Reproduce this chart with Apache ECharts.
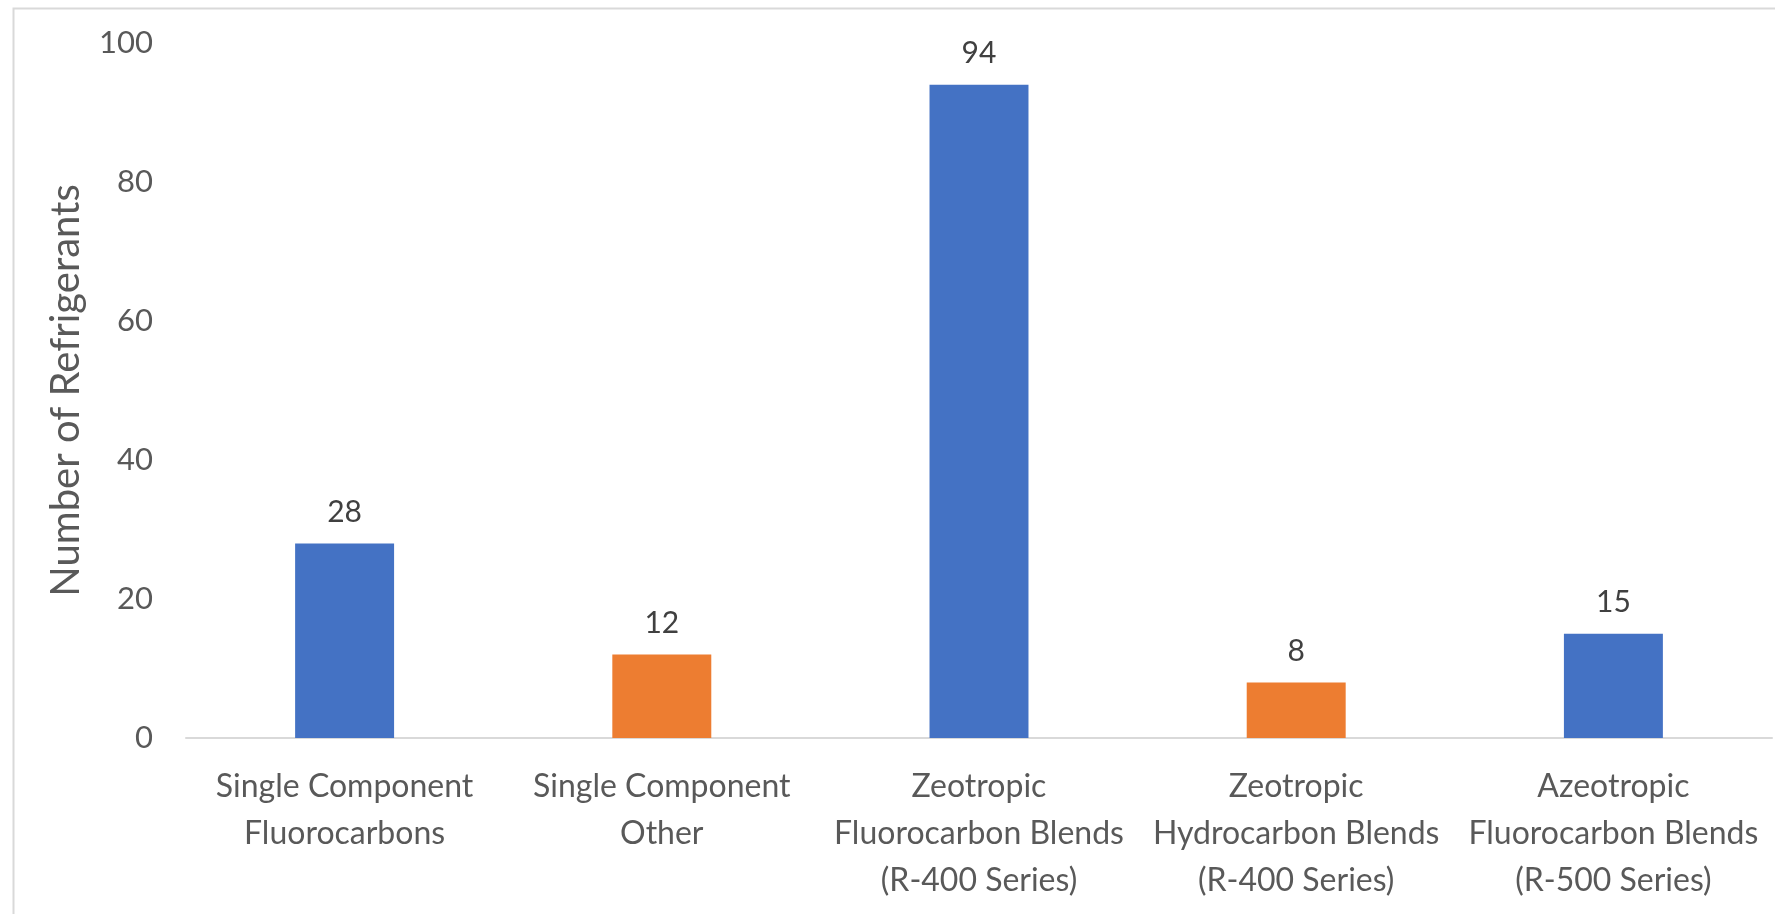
<!DOCTYPE html>
<html>
<head>
<meta charset="utf-8">
<title>Number of Refrigerants by Type</title>
<script src="https://cdn.jsdelivr.net/npm/echarts@6/dist/echarts.min.js"></script>
<style>
  html, body { margin: 0; padding: 0; background: #ffffff; }
  #chart { width: 1775px; height: 914px; }
</style>
</head>
<body>
<div id="chart"></div>
<script>
// Refrigerant families and how many refrigerants fall into each
const categories = [
  'Single Component\nFluorocarbons',
  'Single Component\nOther',
  'Zeotropic\nFluorocarbon Blends\n(R-400 Series)',
  'Zeotropic\nHydrocarbon Blends\n(R-400 Series)',
  'Azeotropic\nFluorocarbon Blends\n(R-500 Series)'
];
const counts = [28, 12, 94, 8, 15];
const barColors = ['#4472C4', '#ED7D31', '#4472C4', '#ED7D31', '#4472C4'];
const yTicks = { min: 0, max: 100, interval: 20 };
const yTitle = 'Number of Refrigerants';

const FONT = 'Lato, "Open Sans", sans-serif';

const chart = echarts.init(document.getElementById('chart'), null, { renderer: 'canvas' });

chart.setOption({
  animation: false,
  backgroundColor: '#ffffff',
  textStyle: { fontFamily: FONT },
  graphic: [{
    type: 'rect',
    left: 11, top: 6,
    shape: { width: 1800, height: 940 },
    style: { fill: 'none', stroke: '#D9D9D9', lineWidth: 2 },
    silent: true,
    z: -1
  }],
  grid: { left: 186, right: 3, top: 43, bottom: 176, containLabel: false },
  xAxis: {
    type: 'category',
    data: categories,
    axisLine: { show: true, lineStyle: { color: '#D9D9D9', width: 2 } },
    axisTick: { show: false },
    axisLabel: {
      color: '#595959',
      fontFamily: FONT,
      fontSize: 32,
      lineHeight: 47,
      margin: 25,
      interval: 0
    },
    splitLine: { show: false }
  },
  yAxis: {
    type: 'value',
    min: yTicks.min,
    max: yTicks.max,
    interval: yTicks.interval,
    name: yTitle,
    nameLocation: 'middle',
    nameGap: 100,
    nameTextStyle: { color: '#595959', fontFamily: FONT, fontSize: 40 },
    axisLine: { show: false },
    axisTick: { show: false },
    splitLine: { show: false },
    axisLabel: { color: '#595959', fontFamily: FONT, fontSize: 31, margin: 33 }
  },
  series: [{
    type: 'bar',
    data: counts.map((v, i) => ({ value: v, itemStyle: { color: barColors[i] } })),
    barWidth: '31.2%',
    label: {
      show: true,
      position: 'top',
      distance: 16,
      color: '#404040',
      fontFamily: FONT,
      fontSize: 30
    }
  }]
});
</script>
</body>
</html>
